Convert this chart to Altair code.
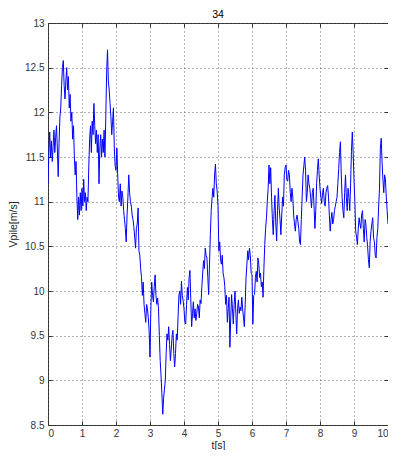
import altair as alt
import pandas as pd

title_text = "34"
x_label = "t[s]"
y_label = "Vpile[m/s]"

t_start = 0.0
t_step = 0.025

# velocity samples, 0.025 s apart (20 per row = 0.5 s)
v_00 = [11.20, 11.55, 11.78, 11.50, 11.68, 11.45, 11.62, 11.80, 11.55, 11.72,
        11.85, 11.60, 11.28, 11.65, 11.95, 12.05, 12.30, 12.50, 12.58, 12.30]
v_05 = [12.15, 12.35, 12.50, 12.25, 12.40, 12.05, 12.20, 11.90, 12.00, 11.70,
        11.85, 11.50, 11.30, 11.45, 11.05, 10.80, 11.05, 10.85, 11.10, 10.90]
v_10 = [11.15, 10.95, 11.25, 11.00, 11.10, 10.90, 11.05, 11.00, 11.40, 11.70,
        11.85, 11.55, 11.90, 11.75, 12.10, 11.85, 11.65, 11.80, 11.55, 11.75]
v_15 = [11.20, 11.60, 11.75, 11.50, 11.70, 11.55, 11.80, 11.50, 11.95, 12.45,
        12.70, 12.35, 12.25, 12.10, 11.95, 11.75, 11.90, 12.05, 11.60, 11.40]
v_20 = [11.35, 11.60, 11.30, 11.05, 11.00, 11.20, 10.95, 11.12, 11.05, 10.90,
        10.80, 10.70, 10.55, 10.85, 11.05, 11.30, 11.10, 11.00, 10.95, 10.85]
v_25 = [10.80, 10.72, 10.60, 10.48, 10.70, 10.75, 10.93, 10.45, 10.40, 10.25,
        10.15, 9.95, 10.10, 9.85, 9.75, 9.65, 9.85, 9.80, 9.70, 9.55]
v_30 = [9.26, 9.80, 10.10, 9.95, 9.88, 10.05, 10.18, 9.95, 9.85, 9.92,
        9.80, 9.50, 9.22, 9.05, 8.85, 8.62, 8.80, 8.90, 9.00, 9.30]
v_35 = [9.52, 9.45, 9.60, 9.40, 9.22, 9.35, 9.50, 9.56, 9.30, 9.15,
        9.30, 9.52, 9.45, 9.70, 9.95, 10.00, 9.85, 10.11, 9.95, 9.89]
v_40 = [9.80, 9.65, 9.63, 9.85, 10.04, 9.90, 10.15, 10.23, 9.90, 9.60,
        9.75, 9.88, 9.70, 9.80, 9.67, 9.75, 9.85, 9.82, 9.70, 9.90]
v_45 = [9.86, 10.05, 10.20, 10.34, 10.25, 10.48, 10.40, 10.37, 10.15, 9.96,
        10.30, 10.63, 10.90, 11.04, 11.15, 11.05, 11.30, 11.42, 11.20, 11.12]
v_50 = [10.95, 10.45, 10.55, 10.35, 10.30, 10.40, 10.20, 10.15, 10.05, 9.85,
        9.95, 9.65, 9.80, 9.93, 9.37, 9.70, 9.96, 9.80, 9.63, 9.85]
v_55 = [10.00, 9.75, 9.52, 9.80, 9.90, 9.75, 9.82, 9.78, 9.93, 9.80,
        9.70, 9.60, 9.85, 10.15, 10.30, 10.45, 10.35, 10.48, 10.40, 10.20]
v_60 = [10.18, 9.63, 9.95, 9.96, 10.15, 10.22, 10.10, 10.37, 10.30, 10.15,
        10.20, 10.05, 10.10, 9.93, 10.25, 10.52, 10.70, 10.82, 11.00, 11.15]
v_65 = [11.41, 11.20, 11.38, 11.05, 10.80, 10.63, 10.90, 11.07, 10.75, 10.56,
        10.90, 11.15, 10.93, 10.80, 10.63, 10.85, 11.05, 10.95, 11.30, 11.38]
v_70 = [11.41, 11.25, 11.23, 11.35, 11.30, 11.10, 11.00, 11.15, 11.05, 10.85,
        10.75, 10.67, 10.80, 10.85, 10.78, 10.70, 10.55, 10.52, 10.80, 11.05]
v_75 = [11.30, 11.40, 11.50, 11.35, 11.00, 11.10, 11.30, 11.20, 11.15, 11.05,
        10.93, 11.10, 11.15, 10.95, 10.70, 10.90, 11.20, 11.35, 11.48, 11.30]
v_80 = [11.15, 11.05, 10.98, 11.10, 11.15, 11.00, 10.95, 11.10, 11.15, 11.18,
        11.05, 10.85, 10.67, 10.80, 10.88, 10.75, 10.80, 10.90, 10.95, 11.00]
v_85 = [11.05, 11.20, 11.37, 11.55, 11.67, 11.30, 11.05, 10.90, 10.82, 11.10,
        11.30, 11.05, 10.90, 11.15, 11.05, 10.90, 11.20, 11.56, 11.78, 11.55]
v_90 = [11.25, 11.00, 10.67, 10.60, 10.52, 10.70, 10.82, 10.75, 10.70, 10.85,
        10.90, 10.70, 10.55, 10.80, 10.75, 10.60, 10.50, 10.35, 10.26, 10.55]
v_95 = [10.67, 10.75, 10.82, 10.60, 10.55, 10.40, 10.37, 10.60, 10.70, 10.95,
        11.15, 11.60, 11.71, 11.45, 11.25, 11.10, 11.30, 11.25, 11.05, 10.90]
v_end = [10.75]

values = (v_00 + v_05 + v_10 + v_15 + v_20 + v_25 + v_30 + v_35 + v_40 + v_45 +
          v_50 + v_55 + v_60 + v_65 + v_70 + v_75 + v_80 + v_85 + v_90 + v_95 + v_end)
times = [round(t_start + i * t_step, 3) for i in range(len(values))]

x_ticks = [0, 1, 2, 3, 4, 5, 6, 7, 8, 9, 10]
y_ticks = [8.5, 9, 9.5, 10, 10.5, 11, 11.5, 12, 12.5, 13]
x_domain = [0, 10]
y_domain = [8.5, 13]

df = pd.DataFrame({"t": times, "v": values})

FONT = "Liberation Sans"
base = alt.Chart(df)

main = base.mark_line(color="#0000ff", strokeWidth=1, clip=True).encode(
    x=alt.X("t:Q", scale=alt.Scale(domain=x_domain, nice=False, zero=False),
            axis=alt.Axis(values=x_ticks, title=x_label, orient="bottom", offset=-4,
                          tickSize=4, domain=False, grid=True, format="d",
                          labelPadding=3, titlePadding=2)),
    y=alt.Y("v:Q", scale=alt.Scale(domain=y_domain, nice=False, zero=False),
            axis=alt.Axis(values=y_ticks, title=y_label, orient="left", offset=-4,
                          tickSize=4, domain=False, grid=True, format=".1~f",
                          labelPadding=4, titlePadding=6)),
)

frame = base.mark_line(opacity=0).encode(
    x=alt.X("t:Q", scale=alt.Scale(domain=x_domain, nice=False, zero=False),
            axis=alt.Axis(values=x_ticks, title=None, orient="top", offset=-4,
                          tickSize=4, domain=False, grid=False, labels=False)),
    y=alt.Y("v:Q", scale=alt.Scale(domain=y_domain, nice=False, zero=False),
            axis=alt.Axis(values=y_ticks, title=None, orient="right", offset=-4,
                          tickSize=4, domain=False, grid=False, labels=False)),
)

chart = alt.layer(main, frame).resolve_axis(x="independent", y="independent").properties(
    width=340,
    height=402,
    title=alt.TitleParams(title_text, fontSize=10.5, fontWeight="normal", color="#000000",
                          font=FONT, offset=4, dy=6),
    autosize=alt.AutoSizeParams(type="none"),
    padding={"left": 40, "top": 15, "right": 0, "bottom": 25},
).configure_view(
    stroke="#333333", strokeWidth=1
).configure_axis(
    labelFont=FONT, labelFontSize=10, labelColor="#333333",
    titleFont=FONT, titleFontSize=10.5, titleFontWeight="normal", titleColor="#222222",
    tickColor="#333333", tickWidth=1,
    gridColor="#555555", gridDash=[1, 3], gridWidth=1, gridOpacity=0.9,
)

chart.save("out.html", embed_options={"renderer": "svg", "actions": False})
